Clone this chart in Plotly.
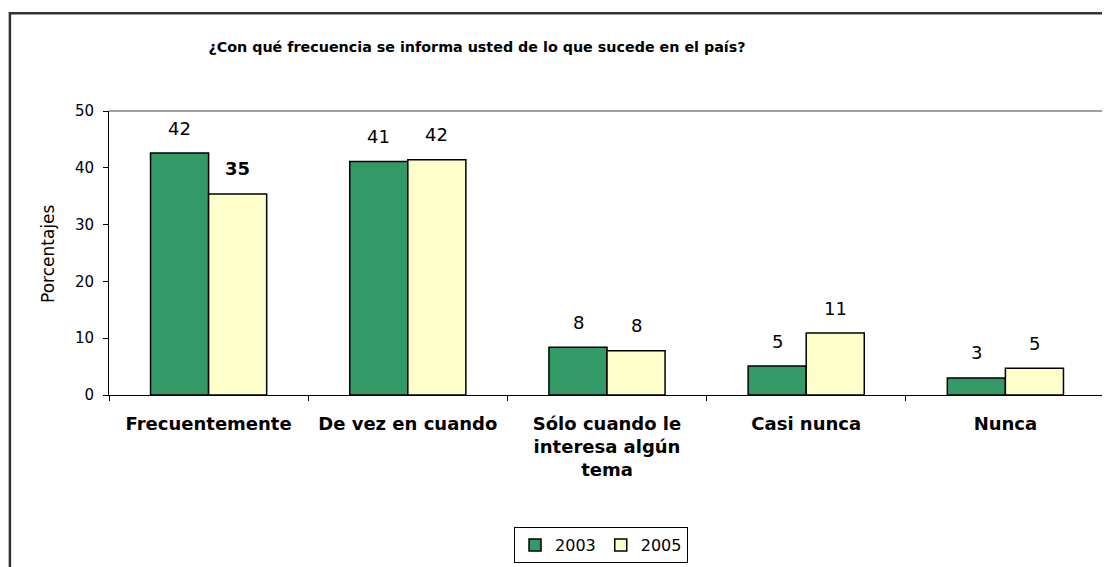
import plotly.graph_objects as go

# data
categorias = ["Frecuentemente", "De vez en cuando", "Sólo cuando le<br>interesa algún<br>tema", "Casi nunca", "Nunca"]
valores_2003 = [42.6, 41.1, 8.4, 5.1, 3.0]
valores_2005 = [35.4, 41.4, 7.8, 10.9, 4.7]
etiquetas_2003 = ["42", "41", "8", "5", "3"]
etiquetas_2005 = ["<b>35</b>", "42", "8", "11", "5"]

fuente = "DejaVu Sans"

fig = go.Figure()
fig.add_trace(go.Bar(x=categorias, y=valores_2003, name="2003",
                     marker=dict(color="#339966", line=dict(color="black", width=1.5))))
fig.add_trace(go.Bar(x=categorias, y=valores_2005, name="2005",
                     marker=dict(color="#FFFFCC", line=dict(color="black", width=1.5))))

# value labels above each bar
for cat, v, t in zip(categorias, valores_2003, etiquetas_2003):
    fig.add_annotation(x=cat, y=v, text=t, showarrow=False, xshift=-29, yshift=25,
                       yanchor="middle", font=dict(family=fuente, size=18, color="black"))
for cat, v, t in zip(categorias, valores_2005, etiquetas_2005):
    fig.add_annotation(x=cat, y=v, text=t, showarrow=False, xshift=29, yshift=25,
                       yanchor="middle", font=dict(family=fuente, size=18, color="black"))

# y axis title
fig.add_annotation(xref="paper", yref="paper", x=-0.0613, y=0.5, text="Porcentajes",
                   textangle=-90, showarrow=False, xanchor="center", yanchor="middle",
                   font=dict(family=fuente, size=17, color="black"))

# plot area border (top grey, right dark) and outer chart frame
fig.add_shape(type="line", xref="paper", yref="paper", x0=0, x1=1, y0=1, y1=1,
              line=dict(color="#808080", width=1.5))
fig.add_shape(type="line", xref="paper", yref="paper", x0=1, x1=1, y0=0, y1=1,
              line=dict(color="#222222", width=1.5))
fig.add_shape(type="rect", xref="paper", yref="paper", x0=-0.0995, x1=1.2, y0=-0.7, y1=1.344,
              line=dict(color="#333333", width=2.5), layer="below")

fig.update_xaxes(type="category", tickson="boundaries", ticks="outside", ticklen=5,
                 tickcolor="black", showline=True, linecolor="black", linewidth=1,
                 showgrid=False, ticklabelstandoff=12,
                 tickfont=dict(family=fuente, size=18, color="black", weight="bold"))
fig.update_yaxes(range=[0, 50], dtick=10, ticks="outside", ticklen=5, tickcolor="black",
                 showline=True, linecolor="black", linewidth=1, showgrid=False,
                 zeroline=False, ticklabelstandoff=6,
                 tickfont=dict(family=fuente, size=15, color="black"))

# page body has an 8px margin, so the figure is a bit smaller and shifted up/left
fig.update_layout(
    width=1102, height=559,
    margin=dict(l=101, r=5, t=103, b=171),
    paper_bgcolor="white", plot_bgcolor="white",
    barmode="group", bargap=0.417, bargroupgap=0,
    title=dict(text="<b>¿Con qué frecuencia se informa usted de lo que sucede en el país?</b>",
               x=0.4256, xanchor="center", y=0.930, yanchor="middle",
               font=dict(family=fuente, size=14.3, color="black")),
    legend=dict(orientation="h", x=0.494, xanchor="center", y=-0.46, yanchor="top",
                bordercolor="black", borderwidth=1, bgcolor="white",
                font=dict(family=fuente, size=16, color="black"),
                itemwidth=30, traceorder="normal"),
)

fig.write_html("out.html")
